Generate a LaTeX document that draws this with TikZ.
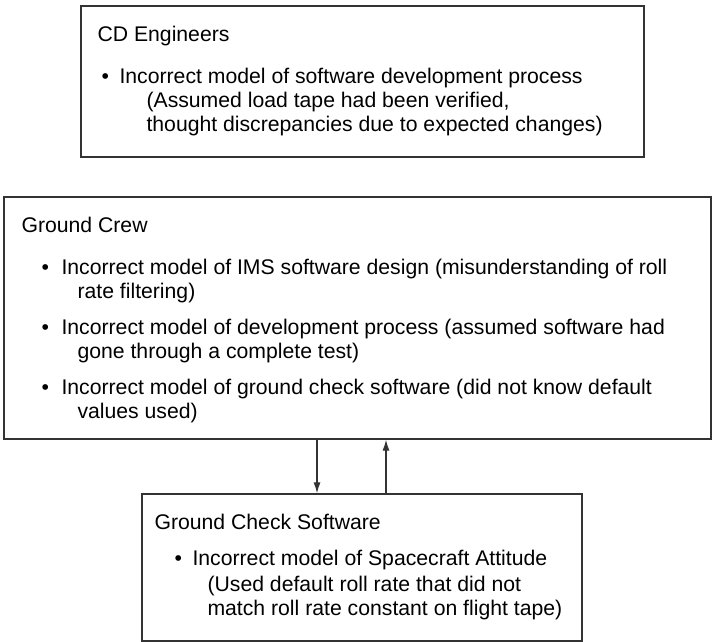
\documentclass[tikz,border=0pt]{standalone}
\usepackage{fontspec}
\setmainfont{Liberation Sans}
\usepackage{tikz}
\usetikzlibrary{positioning,arrows.meta}
\definecolor{edge}{HTML}{333333}
\newcommand{\bullitem}[1]{\makebox[#1][l]{\textbullet}}

\begin{document}
\begin{tikzpicture}[x=1pt, y=-1pt,
  box/.style={draw=edge, line width=1.3pt, rectangle, inner sep=0pt},
  txt/.style={anchor=north west, inner sep=0pt, align=left,
              font=\fontsize{21.2}{24}\selectfont},
  arr/.style={-{Latex[length=11pt, width=7pt]}, line width=1.2pt, draw=edge}]
\useasboundingbox (0,0) rectangle (712,642);
% the three boxes
\node[box, minimum width=563pt, minimum height=151pt] (cd) at (362.5,81.5) {};
\node[box, minimum width=707pt, minimum height=242pt] (crew) at (357.5,318) {};
\node[box, minimum width=440pt, minimum height=147pt] (check) at (362,567.5) {};
% their texts
\node[txt] (cdtxt) at ([xshift=17pt, yshift=-21pt]cd.north west)
  {CD Engineers\\[18pt]
   \hspace*{4pt}\bullitem{18pt}Incorrect model of software development process\\
   \hspace*{49pt}(Assumed load tape had been verified,\\
   \hspace*{49pt}thought discrepancies due to expected changes)};
\node[txt] (crewtxt) at ([xshift=18pt, yshift=-21pt]crew.north west)
  {Ground Crew\\[18pt]
   \hspace*{20pt}\bullitem{20pt}Incorrect model of IMS software design (misunderstanding of roll\\
   \hspace*{56pt}rate filtering)\\[12pt]
   \hspace*{20pt}\bullitem{20pt}Incorrect model of development process (assumed software had\\
   \hspace*{56pt}gone through a complete test)\\[12pt]
   \hspace*{20pt}\bullitem{20pt}Incorrect model of ground check software (did not know default\\
   \hspace*{56pt}values used)};
\node[txt] (checktxt) at ([xshift=13pt, yshift=-21pt]check.north west)
  {Ground Check Software\\[12pt]
   \hspace*{20pt}\bullitem{18pt}Incorrect model of Spacecraft Attitude\\[2pt]
   \hspace*{53pt}(Used default roll rate that did not\\
   \hspace*{53pt}match roll rate constant on flight tape)};
% control and feedback
\draw[arr] (crew.south -| 317,0) -- (check.north -| 317,0);
\draw[arr] (check.north -| 386,0) -- (crew.south -| 386,0);
\end{tikzpicture}
\end{document}
